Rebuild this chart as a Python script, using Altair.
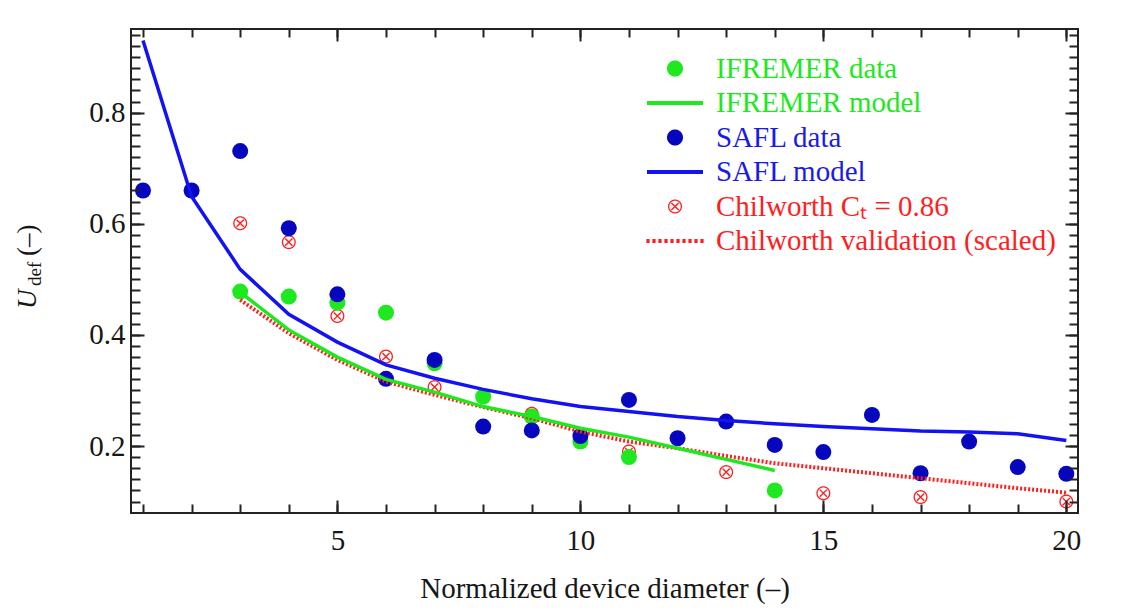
import json
import math
import altair as alt
import pandas as pd

# ------------------------------------------------------------------ data
safl_x = [1, 2, 3, 4, 5, 6, 7, 8, 9, 10, 11, 12, 13, 14, 15, 16, 17, 18, 19, 20]
safl_data = [0.660, 0.660, 0.731, 0.592, 0.473, 0.321, 0.355, 0.235, 0.228, 0.218,
             0.283, 0.214, 0.244, 0.202, 0.189, 0.256, 0.151, 0.208, 0.162, 0.150]
safl_model = [0.930, 0.649, 0.518, 0.437, 0.387, 0.346, 0.322, 0.302, 0.285, 0.271,
              0.262, 0.253, 0.246, 0.240, 0.235, 0.231, 0.227, 0.225, 0.222, 0.210]

ifremer_x = [3, 4, 5, 6, 7, 8, 9, 10, 11, 14]
ifremer_data = [0.478, 0.469, 0.458, 0.440, 0.349, 0.289, 0.253, 0.208, 0.180, 0.120]
ifremer_model_x = [3, 4, 5, 6, 7, 8, 9, 10, 11, 12, 13, 14]
ifremer_model = [0.477, 0.409, 0.360, 0.320, 0.297, 0.271, 0.253, 0.232, 0.216, 0.196, 0.176, 0.156]

chil_x = [3, 4, 5, 6, 7, 9, 11, 13, 15, 17, 20]
chil_data = [0.601, 0.567, 0.434, 0.361, 0.306, 0.258, 0.190, 0.153, 0.115, 0.108, 0.100]
chil_val_x = [3, 4, 5, 6, 7, 8, 9, 10, 11, 12, 13, 14, 15, 16, 17, 18, 19, 20]
chil_val = [0.463, 0.403, 0.355, 0.316, 0.292, 0.270, 0.250, 0.226, 0.208, 0.196,
            0.182, 0.169, 0.160, 0.151, 0.142, 0.133, 0.124, 0.116]

series_names = ["IFREMER data", "IFREMER model", "SAFL data", "SAFL model",
                "Chilworth C\u209c = 0.86", "Chilworth validation (scaled)"]

x_major_ticks = [5, 10, 15, 20]
x_minor_ticks = [1, 2, 3, 4, 5, 6, 7, 8, 9, 10, 11, 12, 13, 14, 15, 16, 17, 18, 19, 20]
y_major_ticks = [0.2, 0.4, 0.6, 0.8]
y_minor_ticks = [0.10, 0.12, 0.14, 0.16, 0.18, 0.20, 0.22, 0.24, 0.26, 0.28,
                 0.30, 0.32, 0.34, 0.36, 0.38, 0.40, 0.42, 0.44, 0.46, 0.48,
                 0.50, 0.52, 0.54, 0.56, 0.58, 0.60, 0.62, 0.64, 0.66, 0.68,
                 0.70, 0.72, 0.74, 0.76, 0.78, 0.80, 0.82, 0.84, 0.86, 0.88,
                 0.90, 0.92, 0.94]

x_title = "Normalized device diameter (\u2013)"
y_title_parts = ["U", "def", "(\u2013)"]

# ------------------------------------------------------------------ style
SERIF = "Liberation Serif"
GREEN = "#1EE81E"
NAVY = "#0606BE"
BLUE = "#1212F2"
RED = "#FF1E1E"
TEXT = "#161616"
FRAME = "#222222"

series_fills = [GREEN, GREEN, NAVY, BLUE, RED, RED]
series_text = [GREEN, GREEN, "#1A1AE8", "#1A1AE8", RED, RED]


def poly(r, n=48, reverse=False):
    pts = [(r * math.cos(2 * math.pi * k / n), r * math.sin(2 * math.pi * k / n)) for k in range(n)]
    if reverse:
        pts = pts[::-1]
    return "M" + " L".join(f"{a:.3f},{b:.3f}" for a, b in pts) + " Z"


def bar(p, q, w):
    dx, dy = q[0] - p[0], q[1] - p[1]
    ln = math.hypot(dx, dy)
    nx, ny = -dy / ln * w, dx / ln * w
    c = [(p[0] + nx, p[1] + ny), (q[0] + nx, q[1] + ny), (q[0] - nx, q[1] - ny), (p[0] - nx, p[1] - ny)]
    return "M" + " L".join(f"{a:.3f},{b:.3f}" for a, b in c) + " Z"


SYM_CIRCLE = poly(0.8)
SYM_LINE = bar((-2.8, 0), (2.8, 0), 0.2)
SYM_OX = " ".join([poly(0.70), poly(0.57, reverse=True),
                   bar((-0.36, -0.36), (0.36, 0.36), 0.07),
                   bar((-0.36, 0.36), (0.36, -0.36), 0.07)])
SYM_DOTS = " ".join(bar((c - 0.16, 0), (c + 0.16, 0), 0.19)
                    for c in [-2.7, -2.1, -1.5, -0.9, -0.3, 0.3, 0.9, 1.5, 2.1, 2.7])
series_shapes = [SYM_CIRCLE, SYM_LINE, SYM_CIRCLE, SYM_LINE, SYM_OX, SYM_DOTS]

xs = alt.Scale(domain=[0.753, 20.24], nice=False, zero=False)
ys = alt.Scale(domain=[0.0794, 0.9507], nice=False, zero=False)

common = dict(grid=False, domain=False, tickColor=FRAME, tickWidth=2, zindex=1,
              labelFlush=False, labelOverlap=False)
tickonly = dict(labels=False, title=None, **common)

ax_x_major = alt.Axis(orient="bottom", values=x_major_ticks, tickSize=13, offset=-13,
                      labelPadding=13, labelFont=SERIF, labelFontSize=29, labelColor=TEXT,
                      format="d", title=x_title, titleFont=SERIF, titleFontSize=29,
                      titleFontWeight="normal", titleColor=TEXT, titlePadding=19, **common)
ax_x_minor = alt.Axis(orient="bottom", values=x_minor_ticks, tickSize=9, offset=-9, **tickonly)
ax_x_top_major = alt.Axis(orient="top", values=x_major_ticks, tickSize=12, offset=-12, **tickonly)
ax_x_top_minor = alt.Axis(orient="top", values=x_minor_ticks, tickSize=8, offset=-8, **tickonly)

ax_y_major = alt.Axis(orient="left", values=y_major_ticks, tickSize=13, offset=-13,
                      labelPadding=6, labelFont=SERIF, labelFontSize=29, labelColor=TEXT,
                      format=".1f", title=None, **common)
ax_y_minor = alt.Axis(orient="left", values=y_minor_ticks, tickSize=9, offset=-9, **tickonly)
ax_y_right_major = alt.Axis(orient="right", values=y_major_ticks, tickSize=13, offset=-13, **tickonly)
ax_y_right_minor = alt.Axis(orient="right", values=y_minor_ticks, tickSize=9, offset=-9, **tickonly)

# ------------------------------------------------------------------ frames
df_chil = pd.DataFrame({"x": chil_x, "y": chil_data})
df_ifr = pd.DataFrame({"x": ifremer_x, "y": ifremer_data})
df_safl = pd.DataFrame({"x": safl_x, "y": safl_data})
df_chil_val = pd.DataFrame({"x": chil_val_x, "y": chil_val})
df_ifr_mod = pd.DataFrame({"x": ifremer_model_x, "y": ifremer_model})
df_safl_mod = pd.DataFrame({"x": safl_x, "y": safl_model})


def enc(ax, ay):
    return dict(x=alt.X("x:Q", scale=xs, axis=ax), y=alt.Y("y:Q", scale=ys, axis=ay))


chil_pts = alt.Chart(df_chil).mark_point(
    shape=SYM_OX, filled=True, color=RED, size=400, opacity=1, strokeWidth=0
).encode(**enc(ax_x_major, ax_y_major))

ifr_pts = alt.Chart(df_ifr).mark_point(
    shape="circle", filled=True, color=GREEN, size=256, opacity=1, strokeWidth=0
).encode(**enc(ax_x_minor, ax_y_minor))

safl_pts = alt.Chart(df_safl).mark_point(
    shape="circle", filled=True, color=NAVY, size=256, opacity=1, strokeWidth=0
).encode(**enc(ax_x_top_major, ax_y_right_major))

chil_line = alt.Chart(df_chil_val).mark_line(
    color=RED, strokeWidth=4, strokeDash=[2, 2], strokeCap="butt"
).encode(**enc(ax_x_top_minor, ax_y_right_minor))

ifr_line = alt.Chart(df_ifr_mod).mark_line(color=GREEN, strokeWidth=3.5).encode(**enc(None, None))
safl_line = alt.Chart(df_safl_mod).mark_line(color=BLUE, strokeWidth=3.5).encode(**enc(None, None))

label_color_expr = (json.dumps(series_text) + "[indexof(" +
                    json.dumps(series_names, ensure_ascii=False) + ", datum.value)]")
leg = alt.Legend(title=None, orient="none", legendX=529.5, legendY=25, padding=0,
                 symbolSize=400, symbolStrokeWidth=0, symbolOpacity=1,
                 labelFont=SERIF, labelFontSize=29, labelOffset=26.5, labelLimit=0,
                 rowPadding=4.5, labelColor=alt.ExprRef(expr=label_color_expr))

legend_layer = alt.Chart(pd.DataFrame({"series": series_names})).mark_point(
    filled=True, size=400, opacity=1, strokeWidth=0
).encode(
    shape=alt.Shape("series:N", scale=alt.Scale(domain=series_names, range=series_shapes), legend=leg),
    fill=alt.Fill("series:N", scale=alt.Scale(domain=series_names, range=series_fills), legend=leg),
).transform_filter("false")


def title_piece(txt, px, py, size, style="normal"):
    return alt.Chart(pd.DataFrame({"t": [txt]})).mark_text(
        angle=270, align="left", baseline="alphabetic", font=SERIF,
        fontSize=size, fontStyle=style, color=TEXT
    ).encode(text="t:N", x=alt.value(px), y=alt.value(py))


yt_u = title_piece(y_title_parts[0], -95, 280, 27, "italic")
yt_def = title_piece(y_title_parts[1], -90, 257, 19)
yt_par = title_piece(y_title_parts[2], -95, 227, 27)

chart = alt.layer(
    chil_pts, ifr_pts, safl_pts, chil_line, ifr_line, safl_line,
    legend_layer, yt_u, yt_def, yt_par
).resolve_axis(
    x="independent", y="independent"
).properties(
    width=947, height=484,
    autosize=alt.AutoSizeParams(type="none"),
    padding={"left": 123, "top": 21, "right": 48, "bottom": 91},
    background="white",
).configure_view(stroke=FRAME, strokeWidth=2)

chart.save("out.html", embed_options={"renderer": "svg", "actions": False})
